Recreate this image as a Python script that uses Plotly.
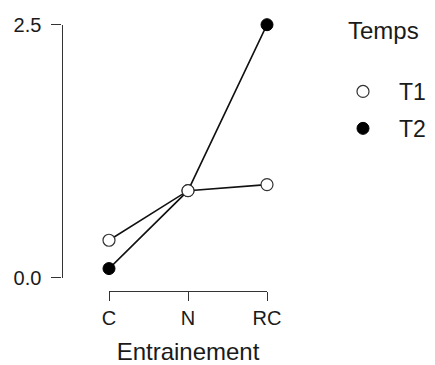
import plotly.graph_objects as go

categories = ["C", "N", "RC"]
series_names = ["T1", "T2"]
t1_values = [0.37, 0.86, 0.92]
t2_values = [0.09, 0.86, 2.5]
y_ticks = [0.0, 2.5]
y_tick_labels = ["0.0", "2.5"]
legend_title = "Temps"
x_title = "Entrainement"

W, H = 435, 365
OFF = 8  # page body margin
FONT = "Liberation Sans, Arial, sans-serif"
TXT = "#1a1a1a"


def px(x):
    return (x - OFF) / W


def py(y):
    return 1 - (y - OFF) / H


fig = go.Figure()

# lines first
for vals, nm in [(t1_values, "T1"), (t2_values, "T2")]:
    fig.add_trace(go.Scatter(x=categories, y=vals, mode="lines",
                             line=dict(color="#111111", width=1.6),
                             showlegend=False, hoverinfo="skip", cliponaxis=False))

# markers: T2 then T1 (T1 on top)
fig.add_trace(go.Scatter(x=categories, y=t2_values, mode="markers", name="T2",
                         marker=dict(symbol="circle", size=12, color="#000000",
                                     line=dict(color="#000000", width=1)),
                         legendgroup="T2", legendrank=2, cliponaxis=False))
fig.add_trace(go.Scatter(x=categories, y=t1_values, mode="markers", name="T1",
                         marker=dict(symbol="circle", size=12, color="#ffffff",
                                     line=dict(color="#333333", width=1.2)),
                         legendgroup="T1", legendrank=1, cliponaxis=False))

fig.update_layout(
    width=W, height=H,
    margin=dict(l=0, r=0, t=0, b=0, pad=0, autoexpand=False),
    paper_bgcolor="white", plot_bgcolor="white",
    font=dict(family=FONT, color=TXT, size=20),
    xaxis=dict(
        type="category", categoryorder="array", categoryarray=categories,
        range=[0, 2], domain=[px(109), px(267)],
        anchor="free", position=py(290.5),
        showline=True, linecolor="#333333", linewidth=1.2,
        ticks="outside", ticklen=9, tickcolor="#333333", tickwidth=1.2,
        ticklabelstandoff=0,
        showgrid=False, zeroline=False,
        tickfont=dict(size=20, color=TXT),
        title=dict(text=x_title, font=dict(size=24, color=TXT), standoff=15),
    ),
    yaxis=dict(
        range=[0, 2.5], domain=[py(277.7), py(24.7)],
        anchor="free", position=px(61.5),
        tickvals=y_ticks, ticktext=y_tick_labels,
        showline=True, linecolor="#333333", linewidth=1.2,
        ticks="outside", ticklen=10, tickcolor="#333333", tickwidth=1.2,
        ticklabelstandoff=6,
        showgrid=False, zeroline=False,
        tickfont=dict(size=20, color=TXT),
    ),
    legend=dict(
        x=px(327), y=py(70), xanchor="left", yanchor="top",
        font=dict(size=23, color=TXT),
        traceorder="grouped", tracegroupgap=4, itemwidth=62,
        bgcolor="rgba(0,0,0,0)",
    ),
    annotations=[dict(
        text=legend_title, xref="paper", yref="paper",
        x=px(346), y=py(31), xanchor="left", yanchor="middle",
        showarrow=False, font=dict(size=24, color=TXT),
    )],
)

fig.write_html("out.html")
